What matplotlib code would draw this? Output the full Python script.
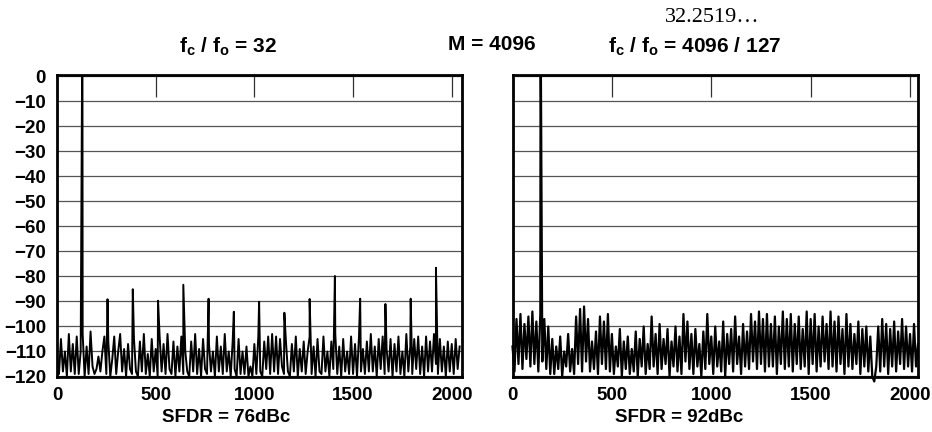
import numpy as np
import matplotlib
matplotlib.use("Agg")
import matplotlib.pyplot as plt

plt.rcParams['font.family'] = ['Liberation Sans', 'DejaVu Sans']
plt.rcParams['font.weight'] = 'bold'
plt.rcParams['mathtext.fontset'] = 'custom'
plt.rcParams['mathtext.rm'] = 'Liberation Sans:bold'
plt.rcParams['mathtext.bf'] = 'Liberation Sans:bold'
plt.rcParams['mathtext.it'] = 'Liberation Sans:bold'
plt.rcParams['mathtext.default'] = 'rm'

# ---------------- data ----------------
bin_step = 10  # noise samples every 10 FFT bins

left_fund_bins = [127, 129]
left_fund_db = [0.0, 0.0]
left_spur_bins = [256, 384, 512, 640, 768, 896, 1024, 1152, 1280, 1408, 1536, 1664, 1792, 1920]
left_spur_db = [-89.1, -85.1, -89.7, -83.3, -88.9, -94.1, -90.1, -94.5, -89.0, -79.8, -88.9, -91.0, -88.9, -76.5]

left_noise_db = [
    -112, -119, -105, -118, -110, -120, -103, -118, -107, -119,
    -104, -119, -110, -103, -120, -108, -119, -102, -116, -119,
    -117, -112, -118, -110, -104, -119, -106, -120, -113, -104,
    -119, -110, -103, -118, -109, -120, -107, -117, -119, -105,
    -118, -120, -106, -118, -103, -119, -111, -120, -105, -118,
    -109, -120, -104, -118, -107, -119, -103, -117, -119, -106,
    -120, -108, -118, -104, -119, -110, -118, -120, -106, -118,
    -103, -119, -109, -120, -105, -117, -119, -107, -118, -110,
    -120, -104, -118, -108, -119, -103, -118, -110, -120, -106,
    -117, -120, -105, -119, -110, -119, -108, -120, -116, -120,
    -107, -119, -104, -118, -120, -106, -117, -104, -119, -103,
    -118, -104, -119, -105, -116, -119, -106, -118, -120, -107,
    -118, -104, -120, -109, -118, -106, -119, -110, -104, -119,
    -108, -120, -105, -118, -119, -104, -118, -110, -120, -106,
    -117, -103, -119, -108, -120, -105, -118, -110, -119, -104,
    -119, -107, -120, -104, -118, -109, -119, -106, -118, -103,
    -118, -108, -120, -105, -117, -104, -119, -109, -118, -105,
    -120, -107, -118, -104, -119, -110, -120, -103, -118, -108,
    -119, -105, -117, -104, -119, -108, -120, -104, -118, -106,
    -118, -103, -115, -119, -105, -118, -108, -120, -106, -118,
    -107, -119, -105, -117, -108,
]

right_fund_bins = [141, 143]
right_fund_db = [0.0, 0.0]
right_noise_db = [
    -108, -118, -97, -115, -95, -117, -99, -113, -96, -116,
    -94, -115, -98, -118, -95, -114, -97, -117, -100, -119,
    -105, -119, -108, -117, -104, -120, -110, -116, -103, -118,
    -109, -119, -96, -115, -93, -118, -92, -114, -97, -118,
    -106, -117, -102, -119, -96, -115, -98, -117, -95, -118,
    -103, -119, -108, -116, -101, -120, -106, -117, -104, -119,
    -109, -118, -102, -120, -105, -116, -100, -119, -107, -117,
    -96, -116, -103, -119, -99, -117, -105, -115, -101, -120,
    -106, -116, -100, -118, -104, -119, -95, -114, -98, -117,
    -103, -119, -101, -116, -107, -120, -102, -117, -95, -115,
    -104, -119, -100, -116, -106, -118, -98, -120, -103, -115,
    -101, -118, -96, -115, -104, -119, -99, -116, -102, -117,
    -95, -114, -98, -117, -94, -115, -97, -118, -95, -116,
    -99, -116, -96, -119, -100, -115, -94, -117, -97, -116,
    -95, -118, -99, -115, -96, -117, -101, -116, -94, -119,
    -97, -115, -95, -118, -100, -116, -96, -114, -99, -117,
    -94, -116, -98, -118, -96, -115, -101, -119, -95, -116,
    -99, -117, -103, -115, -98, -119, -101, -116, -100, -118,
    -104, -120, -122, -116, -100, -118, -97, -116, -99, -119,
    -101, -116, -98, -118, -102, -115, -97, -117, -100, -116,
    -103, -118, -99, -116, -107,
]

x_ticks = [0, 500, 1000, 1500, 2000]
y_ticks = list(range(-120, 1, 10))

left_title = r'f$_{c}$ / f$_{o}$ = 32'
center_title = 'M = 4096'
right_title = r'f$_{c}$ / f$_{o}$ = 4096 / 127'
right_note = '32.2519…'
left_xlabel = 'SFDR = 76dBc'
right_xlabel = 'SFDR = 92dBc'


def build(noise, extra_bins, extra_db):
    x = np.concatenate([np.arange(len(noise)) * bin_step, np.asarray(extra_bins, float)])
    y = np.concatenate([np.asarray(noise, float), np.asarray(extra_db, float)])
    order = np.argsort(x, kind='stable')
    return x[order], y[order]


fig = plt.figure(figsize=(9.32, 4.32), dpi=100)
axL = fig.add_axes([57 / 932, 55 / 432, 405 / 932, 302 / 432])
axR = fig.add_axes([512.5 / 932, 55 / 432, 405.5 / 932, 302 / 432])

xl, yl = build(left_noise_db, left_fund_bins + left_spur_bins, left_fund_db + left_spur_db)
xr, yr = build(right_noise_db, right_fund_bins, right_fund_db)

axL.plot(xl, yl, color='black', lw=1.4, zorder=3)
axR.plot(xr, yr, color='black', lw=1.6, zorder=3, clip_on=False)

for ax, xmax in ((axL, 2052), (axR, 2040)):
    ax.set_xlim(0, xmax)
    ax.set_ylim(-120.2, 0.6)
    ax.set_yticks(y_ticks)
    ax.set_xticks(x_ticks)
    ax.grid(axis='y', color='#555555', lw=0.9, zorder=1)
    ax.tick_params(axis='x', bottom=False, top=True, direction='in', length=16,
                   width=0.9, color='#333333', labelbottom=True, labeltop=False,
                   labelsize=13.5, pad=7)
    ax.tick_params(axis='y', length=0, labelsize=13.5, pad=8)
    for s in ax.spines.values():
        s.set_linewidth(2.0)
        s.set_zorder(5)

axR.tick_params(axis='y', labelleft=False)

fig.text(228 / 932, 1 - 47 / 432, left_title, ha='center', va='center', fontsize=15, fontweight='bold')
fig.text(492 / 932, 1 - 45 / 432, center_title, ha='center', va='center', fontsize=15, fontweight='bold')
fig.text(695 / 932, 1 - 47 / 432, right_title, ha='center', va='center', fontsize=15, fontweight='bold')
fig.text(712 / 932, 1 - 18 / 432, right_note, ha='center', va='center', fontsize=16,
         family='Liberation Serif', fontweight='normal')
fig.text(226 / 932, 1 - 418 / 432, left_xlabel, ha='center', va='center', fontsize=13.5, fontweight='bold')
fig.text(679 / 932, 1 - 418 / 432, right_xlabel, ha='center', va='center', fontsize=13.5, fontweight='bold')

fig.savefig('out.png', dpi=100)
